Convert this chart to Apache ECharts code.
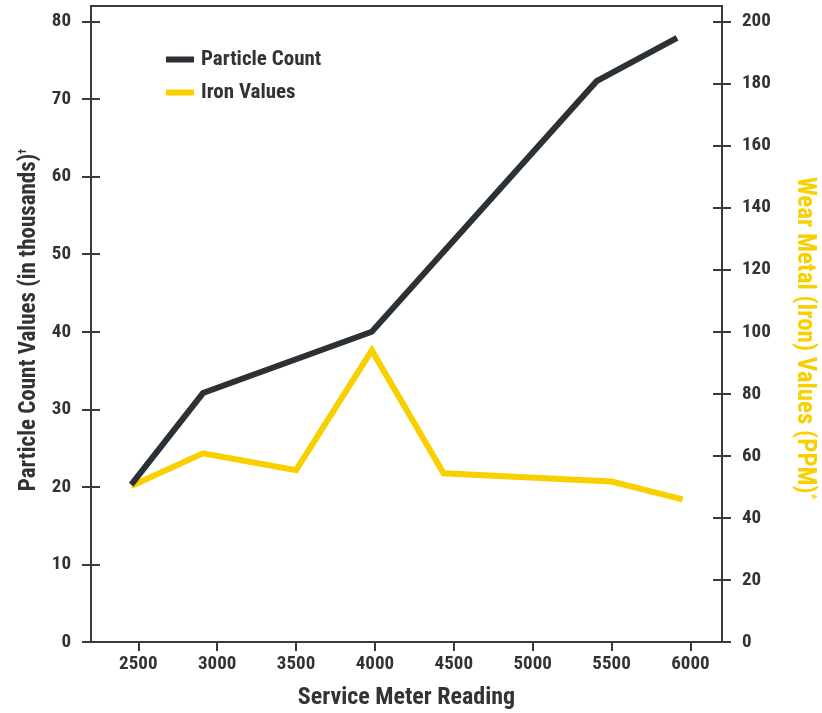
<!DOCTYPE html>
<html>
<head>
<meta charset="utf-8">
<script src="https://cdn.jsdelivr.net/npm/echarts@6/dist/echarts.min.js"></script>
<style>
html,body{margin:0;padding:0;background:#fff;}
#chart{width:822px;height:713px;}
</style>
</head>
<body>
<div id="chart"></div>
<script>
// Data
const particleX = [2455, 2910, 3980, 5405, 5915];
const particleVals = [20.3, 32.1, 40.0, 72.3, 77.9];
const ironX = [2455, 2910, 3500, 3980, 4435, 5500, 5950];
const ironVals = [50.3, 60.8, 55.4, 94.0, 54.4, 51.7, 46.0];
const xTicks = [2500, 3000, 3500, 4000, 4500, 5000, 5500, 6000];
const leftTicks = [0, 10, 20, 30, 40, 50, 60, 70, 80];
const rightTicks = [0, 20, 40, 60, 80, 100, 120, 140, 160, 180, 200];
const seriesNames = ['Particle Count', 'Iron Values'];

const FONT = "'Liberation Sans Narrow','Roboto Condensed','DejaVu Sans Condensed','Arial Narrow',sans-serif";
const TXT = '#333';
const AX = '#3a3a3a';
const BLACK = '#2c3136';
const YELLOW = '#f8d000';

const chart = echarts.init(document.getElementById('chart'));

function yAx(pos, max, ticks, inside, extra) {
  return Object.assign({
    type: 'value', position: pos, min: 0, max: max,
    axisLine: { show: !inside, lineStyle: { color: AX, width: 2 } },
    axisTick: { show: true, inside: inside, length: 9, customValues: ticks, lineStyle: { color: AX, width: 2 } },
    axisLabel: inside ? { show: false } : {
      show: true, customValues: ticks, margin: 20,
      color: TXT, fontFamily: FONT, fontWeight: 'bold', fontSize: 19,
      formatter: v => String(v)
    },
    splitLine: { show: false }
  }, extra || {});
}

chart.setOption({
  backgroundColor: '#fff',
  animation: false,
  grid: { left: 91, right: 100, top: 6, bottom: 71, outerBoundsMode: 'none', containLabel: false,
    show: true, borderColor: AX, borderWidth: 2, backgroundColor: 'transparent' },
  legend: {
    data: seriesNames,
    orient: 'vertical',
    left: 161, top: 44,
    itemWidth: 28, itemHeight: 6, itemGap: 12,
    icon: 'rect',
    textStyle: { color: TXT, fontFamily: FONT, fontWeight: 'bold', fontSize: 21, padding: [0, 0, 0, 2] }
  },
  xAxis: {
    type: 'value', min: 2200, max: 6200,
    axisLine: { show: true, onZero: false, lineStyle: { color: AX, width: 2 } },
    axisTick: { show: true, length: 9, customValues: xTicks, lineStyle: { color: AX, width: 2 } },
    axisLabel: { customValues: xTicks, margin: 13, color: TXT, fontFamily: FONT, fontWeight: 'bold', fontSize: 19,
      formatter: v => String(v) },
    splitLine: { show: false },
    name: 'Service Meter Reading',
    nameLocation: 'middle', nameGap: 44,
    nameTextStyle: { color: TXT, fontFamily: FONT, fontWeight: 'bold', fontSize: 24 }
  },
  yAxis: [
    yAx('left', 82, leftTicks, false, {
      name: 'Particle Count Values (in thousands){s|†}',
      nameLocation: 'middle', nameGap: 50, nameRotate: 90,
      nameTextStyle: { color: TXT, fontFamily: FONT, fontWeight: 'bold', fontSize: 23,
        padding: [0, 0, 0, 8],
        rich: { s: { fontSize: 11, fontFamily: FONT, fontWeight: 'bold', color: TXT, padding: [0, 0, 12, 0] } } }
    }),
    yAx('right', 205, rightTicks, false, {
      name: 'Wear Metal (Iron) Values (PPM){s|*}',
      nameLocation: 'middle', nameGap: 70, nameRotate: -90,
      nameTextStyle: { color: YELLOW, fontFamily: FONT, fontWeight: 'bold', fontSize: 25,
        padding: [0, 0, 0, 28],
        rich: { s: { fontSize: 12, fontFamily: FONT, fontWeight: 'bold', color: YELLOW, padding: [0, 0, 13, 0] } } }
    }),
    yAx('left', 82, leftTicks, true),
    yAx('right', 205, rightTicks, true)
  ],
  series: [
    {
      name: seriesNames[0], type: 'line', yAxisIndex: 0, showSymbol: false,
      data: particleX.map((x, i) => [x, particleVals[i]]),
      lineStyle: { color: BLACK, width: 6, join: 'miter' }, itemStyle: { color: BLACK }, z: 3
    },
    {
      name: seriesNames[1], type: 'line', yAxisIndex: 1, showSymbol: false,
      data: ironX.map((x, i) => [x, ironVals[i]]),
      lineStyle: { color: YELLOW, width: 6, join: 'miter' }, itemStyle: { color: YELLOW }, z: 2
    }
  ]
});
</script>
</body>
</html>
